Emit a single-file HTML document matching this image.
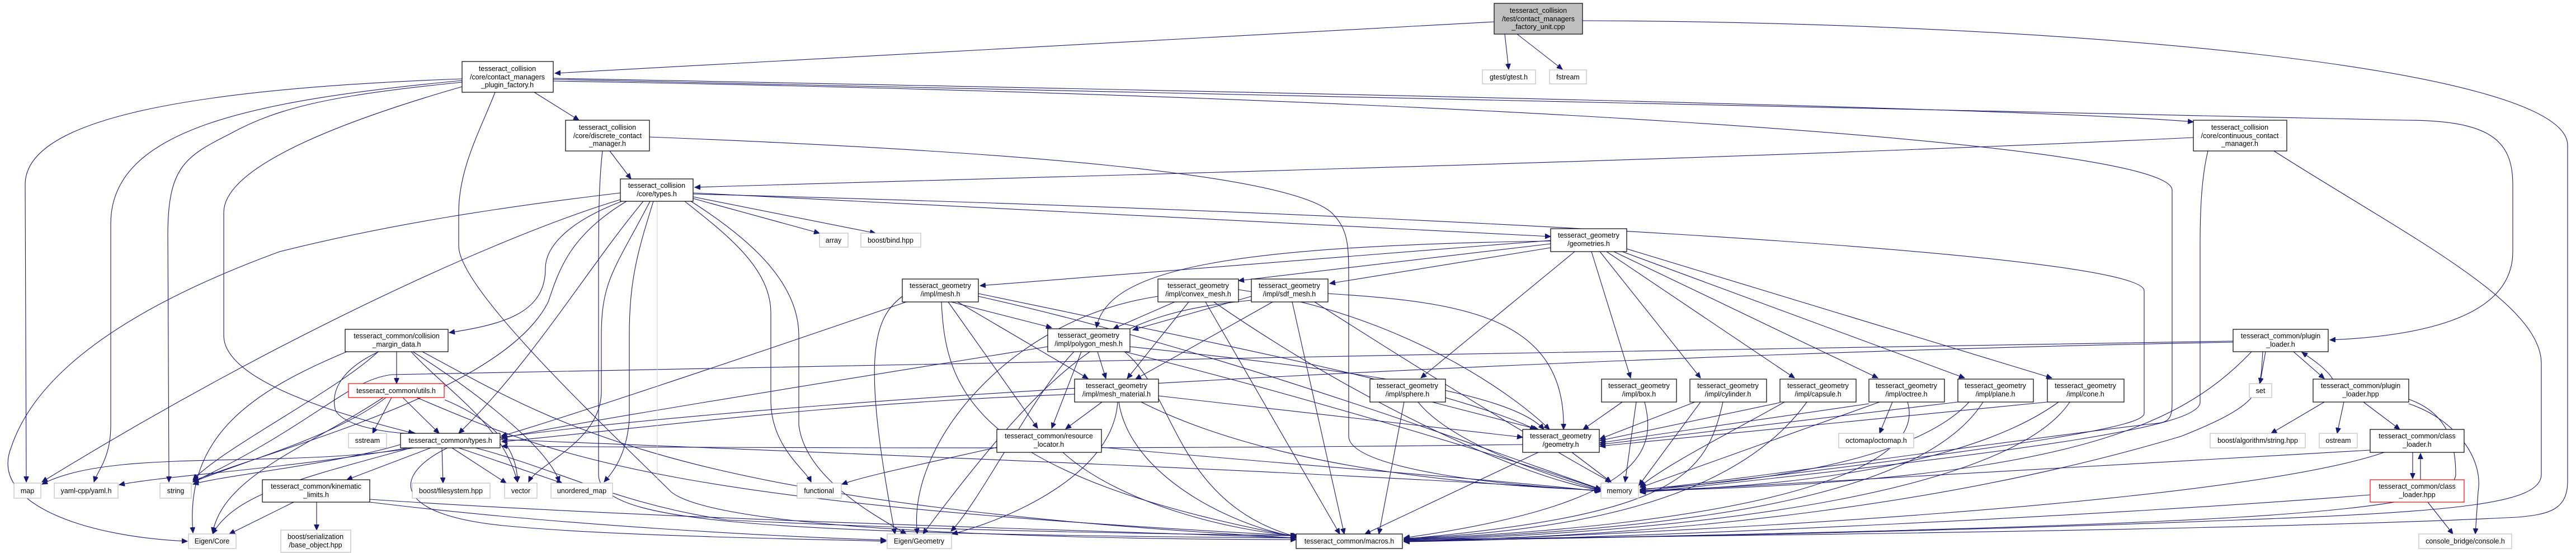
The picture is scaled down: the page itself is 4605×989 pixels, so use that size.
<!DOCTYPE html>
<html><head><meta charset="utf-8"><style>
html,body{margin:0;padding:0;background:#fff;}
svg{display:block;}
text{font-family:"Liberation Sans",sans-serif;font-size:12.5px;fill:#000;}
</style></head><body>
<svg width="4605" height="989" viewBox="0 0 4605 989" xmlns="http://www.w3.org/2000/svg">
<defs>
<marker id="a" markerWidth="11" markerHeight="9" refX="10" refY="4.5" orient="auto" markerUnits="userSpaceOnUse">
<path d="M0,0 L10,4.5 L0,9 z" fill="#191970" stroke="#191970"/>
</marker>
</defs>
<g fill="none" stroke="#191970" stroke-width="1.1" marker-end="url(#a)">
<path d="M2671,39 L992,131"/>
<path d="M2690,61 L2697,124"/>
<path d="M2712,61 L2793,124"/>
<path d="M2829,37 C3700,40 4590,120 4590,260 L4590,860 C4590,910 4560,920 4500,925 C4000,950 2900,960 2510,965"/>
<path d="M826,141 C300,160 45,220 45,330 L47,862"/>
<path d="M826,144 C450,180 198,230 198,400 L198,760 C198,820 175,840 168,862"/>
<path d="M826,147 C600,170 500,190 410,240 C330,280 300,300 300,420 L302,862"/>
<path d="M826,155 C600,220 400,300 400,380 L400,600 C400,680 600,740 740,775"/>
<path d="M885,165 C860,230 820,300 820,380 L820,440 C820,520 1100,780 1200,880 C1300,960 2100,965 2317,965"/>
<path d="M955,165 L1035,215"/>
<path d="M989,140 C2000,160 3600,190 3921,218"/>
<path d="M989,142 C2500,170 3800,210 4300,215 C4450,215 4492,250 4492,330 L4492,450 C4492,560 4350,600 4165,608"/>
<path d="M989,145 C2500,170 3883,250 3883,340 L3883,720 C3883,760 3870,755 3830,760 C3500,800 3100,860 2932,876"/>
<path d="M1090,270 L1128,320"/>
<path d="M1077,270 C1070,330 1070,400 1070,500 L1070,850 C1075,930 1300,955 2317,962"/>
<path d="M1161,245 C1800,270 2300,310 2380,380 C2411,410 2411,440 2411,500 L2411,780 C2411,840 2700,870 2860,877"/>
<path d="M1109,345 C900,370 700,400 500,450 C200,560 60,680 20,800 C-20,900 150,960 335,968"/>
<path d="M1109,357 C900,420 500,600 75,862"/>
<path d="M1125,355 C1000,400 975,450 975,480 C975,560 900,580 803,595"/>
<path d="M1120,360 C1020,420 1000,480 980,540 C900,700 500,800 345,860"/>
<path d="M1150,360 C1050,480 950,650 820,775"/>
<path d="M1162,360 C1100,480 1075,500 1075,600 L1075,700 C1075,790 960,830 945,862"/>
<path d="M1168,360 C1140,450 1125,500 1125,600 L1125,750 C1120,820 1090,850 1080,862"/>
<path d="M1224,360 C1300,420 1378,480 1378,560 L1378,720 C1380,800 1440,840 1450,862"/>
<path d="M1232,358 C1330,420 1428,500 1428,600 L1428,760 C1440,860 1580,930 1620,955"/>
<path d="M1239,355 L1465,417"/>
<path d="M1239,352 L1565,417"/>
<path d="M1239,345 L2772,423"/>
<path d="M1239,347 C2500,380 3833,450 3833,520 L3833,740 C3830,760 3700,790 2932,879"/>
<path d="M3921,246 C3000,290 1700,320 1242,335"/>
<path d="M3947,270 C3935,320 3933,380 3933,440 L3933,720 C3930,760 3700,800 2932,881"/>
<path d="M4065,270 C4300,420 4543,540 4543,650 L4543,850 C4540,900 4400,915 4000,930 C3500,950 2900,962 2510,967"/>
<path d="M709,629 L709,686"/>
<path d="M677,629 C610,660 590,700 600,735 C620,765 700,775 745,776"/>
<path d="M620,629 C450,700 330,780 345,953"/>
<path d="M676,629 C600,700 400,800 345,858"/>
<path d="M735,629 C800,700 900,760 925,862"/>
<path d="M738,629 C850,700 980,800 1000,862"/>
<path d="M755,629 C1000,760 1200,900 2317,962"/>
<path d="M700,711 L666,775"/>
<path d="M720,711 L785,775"/>
<path d="M690,711 C600,780 450,820 345,862"/>
<path d="M685,711 C550,800 400,850 380,953"/>
<path d="M795,715 C880,750 925,800 925,862"/>
<path d="M745,711 C1000,820 1200,900 2317,958"/>
<path d="M740,801 C500,840 200,800 75,866"/>
<path d="M730,801 C500,840 300,850 213,867"/>
<path d="M716,795 C600,830 400,850 345,866"/>
<path d="M735,801 C560,850 420,880 380,955"/>
<path d="M770,801 L620,858"/>
<path d="M790,801 L792,864"/>
<path d="M808,801 L905,864"/>
<path d="M820,801 L1005,864"/>
<path d="M800,801 C700,850 700,920 900,940 C1100,960 1500,965 1584,968"/>
<path d="M850,801 C1000,840 1100,900 1300,930 C1700,950 2100,955 2317,958"/>
<path d="M894,786 C1500,810 2500,850 2862,878"/>
<path d="M525,898 L410,955"/>
<path d="M566,898 L566,948"/>
<path d="M661,893 C1200,930 2000,950 2317,962"/>
<path d="M661,898 C1000,940 1400,960 1584,966"/>
<path d="M2772,430 L1752,511"/>
<path d="M2772,436 L2214,502"/>
<path d="M2772,443 L2377,507"/>
<path d="M2772,431 C2200,440 1980,480 1960,586"/>
<path d="M2815,450 L2540,676"/>
<path d="M2845,450 L2915,676"/>
<path d="M2860,450 L3040,676"/>
<path d="M2872,450 L3208,676"/>
<path d="M2885,450 L3357,676"/>
<path d="M2900,450 L3512,676"/>
<path d="M2908,445 L3668,676"/>
<path d="M1700,540 L1880,586"/>
<path d="M1712,540 L1945,677"/>
<path d="M1695,540 L1855,766"/>
<path d="M1749,525 C2300,640 2600,700 2745,768"/>
<path d="M1749,530 C2200,630 2700,820 2862,875"/>
<path d="M1683,540 C1690,700 1740,850 2317,960"/>
<path d="M1613,530 C1560,570 1540,640 1600,955"/>
<path d="M1620,540 C1300,650 1000,750 896,780"/>
<path d="M2100,540 L1990,588"/>
<path d="M2125,540 L2015,677"/>
<path d="M2070,530 C1800,570 1620,800 1640,955"/>
<path d="M2155,540 L2395,955"/>
<path d="M2170,540 C2400,700 2700,850 2862,877"/>
<path d="M2214,518 C2500,560 2700,700 2770,768"/>
<path d="M2237,530 L2025,590"/>
<path d="M2275,540 L2030,678"/>
<path d="M2310,540 L2403,955"/>
<path d="M2350,540 C2600,700 2800,820 2880,862"/>
<path d="M2374,525 C2600,540 2800,560 2795,768"/>
<path d="M2237,537 C2000,560 1900,620 1650,955"/>
<path d="M1962,629 L1977,677"/>
<path d="M1933,629 L1880,766"/>
<path d="M1920,629 C1850,700 1750,900 1700,950"/>
<path d="M2010,629 C2100,700 2100,900 2317,960"/>
<path d="M2020,620 C2400,660 2700,700 2760,768"/>
<path d="M2010,629 C2300,700 2700,820 2862,876"/>
<path d="M1873,620 C1500,680 1000,760 897,784"/>
<path d="M1970,719 L1905,767"/>
<path d="M2071,708 L2722,782"/>
<path d="M1998,719 C1990,850 1800,930 1702,955"/>
<path d="M2000,719 C2020,850 2200,940 2317,960"/>
<path d="M2040,719 C2300,850 2700,870 2862,877"/>
<path d="M1921,705 C1500,720 1200,760 897,790"/>
<path d="M1782,800 C1650,830 1550,850 1505,866"/>
<path d="M1969,800 C2300,830 2700,860 2862,879"/>
<path d="M1900,809 C2000,900 2200,950 2320,958"/>
<path d="M2560,719 L2750,768"/>
<path d="M2535,719 C2600,800 2800,860 2862,877"/>
<path d="M2510,719 L2465,955"/>
<path d="M2900,719 L2830,768"/>
<path d="M2925,719 L2905,862"/>
<path d="M2940,719 C2960,800 2950,900 2510,962"/>
<path d="M2810,809 L2880,862"/>
<path d="M2750,809 L2440,955"/>
<path d="M2722,795 C2000,805 1200,800 897,798"/>
<path d="M3030,719 L2860,785"/>
<path d="M3040,719 L2930,868"/>
<path d="M3080,719 C3050,850 3000,920 2510,964"/>
<path d="M3182,720 L2860,788"/>
<path d="M3190,719 C3100,770 2980,830 2932,870"/>
<path d="M3230,719 C3100,900 2800,950 2510,963"/>
<path d="M3383,719 L3360,775"/>
<path d="M3341,722 L2860,792"/>
<path d="M3360,719 L2932,872"/>
<path d="M3410,719 C3450,850 3100,940 2510,964"/>
<path d="M3500,719 L2860,795"/>
<path d="M3520,719 C3400,850 3000,870 2932,875"/>
<path d="M3545,719 C3450,870 3100,945 2510,965"/>
<path d="M3660,719 L2860,798"/>
<path d="M3680,719 C3500,850 3100,875 2932,877"/>
<path d="M3700,719 C3600,870 3100,950 2510,966"/>
<path d="M4050,629 L4040,686"/>
<path d="M4100,629 L4155,677"/>
<path d="M4025,629 C3900,760 3700,860 2932,878"/>
<path d="M4045,629 C4040,700 4050,720 3900,780 C3500,900 3000,960 2510,967"/>
<path d="M3992,610 C3000,620 1500,660 700,670 C620,680 560,760 345,862"/>
<path d="M3992,612 C3000,630 1500,700 897,782"/>
<path d="M4170,678 C4160,660 4130,640 4115,630"/>
<path d="M4155,719 L4060,775"/>
<path d="M4190,719 L4178,775"/>
<path d="M4225,719 L4290,768"/>
<path d="M4306,722 C4390,750 4440,820 4430,880 L4425,955"/>
<path d="M4306,714 C4380,740 4390,800 4390,850 C4380,920 4000,940 2510,968"/>
<path d="M4313,809 L4313,856"/>
<path d="M4237,805 C3800,830 3300,860 2932,880"/>
<path d="M4262,809 C4000,900 3000,955 2510,968"/>
<path d="M4327,858 L4327,811"/>
<path d="M4340,898 L4385,955"/>
<path d="M4237,885 C3800,920 3000,960 2510,969"/>
</g>
<path d="M1175,360 L1175,860" stroke="#cccccc" fill="none"/>
<g stroke-width="1.2">
<!-- black nodes -->
<g fill="#fff" stroke="#000">
<rect x="826" y="110" width="163" height="55"/>
<rect x="1011" y="215" width="150" height="55"/>
<rect x="1109" y="320" width="130" height="40"/>
<rect x="617" y="589" width="184" height="40"/>
<rect x="716" y="775" width="178" height="26"/>
<rect x="469" y="858" width="192" height="40"/>
<rect x="2772" y="409" width="136" height="41"/>
<rect x="1613" y="499" width="136" height="41"/>
<rect x="2070" y="499" width="144" height="41"/>
<rect x="2237" y="499" width="137" height="41"/>
<rect x="1873" y="588" width="147" height="41"/>
<rect x="1921" y="678" width="150" height="41"/>
<rect x="2449" y="678" width="135" height="41"/>
<rect x="2863" y="678" width="134" height="41"/>
<rect x="1782" y="768" width="187" height="41"/>
<rect x="2722" y="768" width="137" height="41"/>
<rect x="2317" y="955" width="190" height="26"/>
<rect x="3921" y="215" width="167" height="55"/>
<rect x="3021" y="678" width="137" height="41"/>
<rect x="3182" y="678" width="136" height="41"/>
<rect x="3341" y="678" width="135" height="41"/>
<rect x="3500" y="678" width="135" height="41"/>
<rect x="3660" y="678" width="137" height="41"/>
<rect x="3992" y="589" width="170" height="40"/>
<rect x="4135" y="678" width="171" height="41"/>
<rect x="4237" y="768" width="168" height="41"/>
</g>
<rect x="2671" y="6" width="158" height="55" fill="#bfbfbf" stroke="#000"/>
<g fill="#fff" stroke="#ff0000">
<rect x="623" y="686" width="171" height="25"/>
<rect x="4237" y="858" width="168" height="40"/>
</g>
<g fill="#fff" stroke="#bfbfbf">
<rect x="2650" y="125" width="95" height="25"/>
<rect x="2770" y="125" width="66" height="25"/>
<rect x="1465" y="417" width="51" height="25"/>
<rect x="1539" y="417" width="107" height="25"/>
<rect x="623" y="775" width="68" height="26"/>
<rect x="25" y="864" width="48" height="27"/>
<rect x="97" y="864" width="114" height="27"/>
<rect x="286" y="864" width="56" height="27"/>
<rect x="737" y="864" width="139" height="27"/>
<rect x="902" y="864" width="58" height="27"/>
<rect x="985" y="864" width="110" height="27"/>
<rect x="1425" y="864" width="79" height="27"/>
<rect x="337" y="955" width="85" height="26"/>
<rect x="502" y="948" width="125" height="40"/>
<rect x="2862" y="864" width="67" height="27"/>
<rect x="1586" y="955" width="115" height="26"/>
<rect x="4021" y="686" width="40" height="25"/>
<rect x="3287" y="775" width="134" height="26"/>
<rect x="3951" y="775" width="170" height="26"/>
<rect x="4146" y="775" width="68" height="26"/>
<rect x="4324" y="955" width="166" height="26"/>
</g>
</g>
<g text-anchor="middle">
<text x="2750" y="23">tesseract_collision</text><text x="2750" y="38">/test/contact_managers</text><text x="2750" y="52">_factory_unit.cpp</text>
<text x="2697" y="142">gtest/gtest.h</text>
<text x="2803" y="142">fstream</text>
<text x="907" y="127">tesseract_collision</text><text x="907" y="142">/core/contact_managers</text><text x="907" y="156">_plugin_factory.h</text>
<text x="1086" y="232">tesseract_collision</text><text x="1086" y="247">/core/discrete_contact</text><text x="1086" y="261">_manager.h</text>
<text x="1174" y="336">tesseract_collision</text><text x="1174" y="351">/core/types.h</text>
<text x="1490" y="434">array</text>
<text x="1592" y="434">boost/bind.hpp</text>
<text x="709" y="605">tesseract_common/collision</text><text x="709" y="620">_margin_data.h</text>
<text x="708" y="703">tesseract_common/utils.h</text>
<text x="657" y="792">sstream</text>
<text x="805" y="792">tesseract_common/types.h</text>
<text x="49" y="882">map</text>
<text x="154" y="882">yaml-cpp/yaml.h</text>
<text x="314" y="882">string</text>
<text x="565" y="874">tesseract_common/kinematic</text><text x="565" y="889">_limits.h</text>
<text x="806" y="882">boost/filesystem.hpp</text>
<text x="931" y="882">vector</text>
<text x="1040" y="882">unordered_map</text>
<text x="1464" y="882">functional</text>
<text x="379" y="972">Eigen/Core</text>
<text x="564" y="964">boost/serialization</text><text x="564" y="979">/base_object.hpp</text>
<text x="2840" y="425">tesseract_geometry</text><text x="2840" y="440">/geometries.h</text>
<text x="1681" y="515">tesseract_geometry</text><text x="1681" y="530">/impl/mesh.h</text>
<text x="2142" y="515">tesseract_geometry</text><text x="2142" y="530">/impl/convex_mesh.h</text>
<text x="2305" y="515">tesseract_geometry</text><text x="2305" y="530">/impl/sdf_mesh.h</text>
<text x="1946" y="604">tesseract_geometry</text><text x="1946" y="619">/impl/polygon_mesh.h</text>
<text x="1996" y="694">tesseract_geometry</text><text x="1996" y="709">/impl/mesh_material.h</text>
<text x="2516" y="694">tesseract_geometry</text><text x="2516" y="709">/impl/sphere.h</text>
<text x="2930" y="694">tesseract_geometry</text><text x="2930" y="709">/impl/box.h</text>
<text x="1875" y="784">tesseract_common/resource</text><text x="1875" y="799">_locator.h</text>
<text x="2790" y="784">tesseract_geometry</text><text x="2790" y="799">/geometry.h</text>
<text x="2895" y="882">memory</text>
<text x="1643" y="972">Eigen/Geometry</text>
<text x="2412" y="972">tesseract_common/macros.h</text>
<text x="4004" y="232">tesseract_collision</text><text x="4004" y="247">/core/continuous_contact</text><text x="4004" y="261">_manager.h</text>
<text x="3089" y="694">tesseract_geometry</text><text x="3089" y="709">/impl/cylinder.h</text>
<text x="3250" y="694">tesseract_geometry</text><text x="3250" y="709">/impl/capsule.h</text>
<text x="3408" y="694">tesseract_geometry</text><text x="3408" y="709">/impl/octree.h</text>
<text x="3567" y="694">tesseract_geometry</text><text x="3567" y="709">/impl/plane.h</text>
<text x="3728" y="694">tesseract_geometry</text><text x="3728" y="709">/impl/cone.h</text>
<text x="4077" y="605">tesseract_common/plugin</text><text x="4077" y="620">_loader.h</text>
<text x="4041" y="703">set</text>
<text x="4220" y="694">tesseract_common/plugin</text><text x="4220" y="709">_loader.hpp</text>
<text x="3354" y="792">octomap/octomap.h</text>
<text x="4036" y="792">boost/algorithm/string.hpp</text>
<text x="4180" y="792">ostream</text>
<text x="4321" y="784">tesseract_common/class</text><text x="4321" y="799">_loader.h</text>
<text x="4321" y="874">tesseract_common/class</text><text x="4321" y="889">_loader.hpp</text>
<text x="4407" y="972">console_bridge/console.h</text>
</g>
</svg>
</body></html>
